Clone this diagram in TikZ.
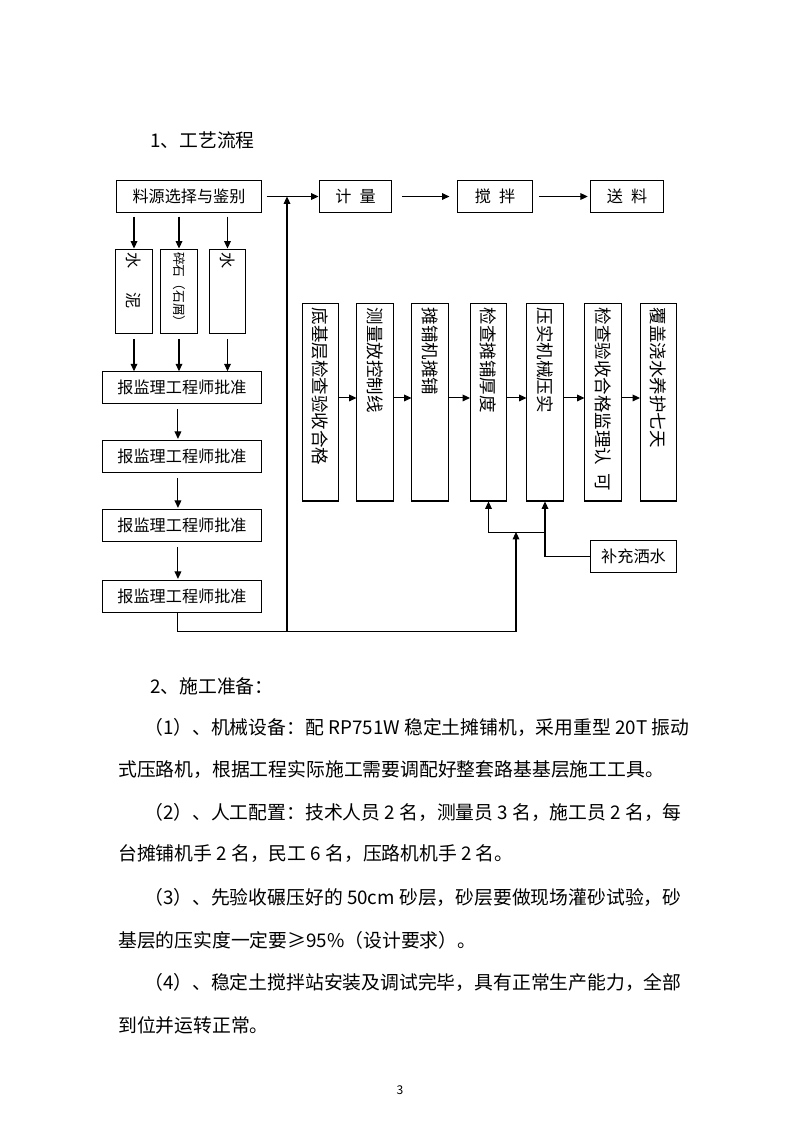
\documentclass[tikz,border=0pt]{standalone}
\usepackage{fontspec}
\usepackage{graphicx}
\setmainfont{Noto Sans CJK SC}
\usetikzlibrary{arrows.meta}

\newcommand{\vtext}[2][140pt]{\rotatebox{-90}{\makebox[#1][l]{#2}}}

\tikzset{
  box/.style={draw, line width=0.75pt, minimum height=23.1pt, inner sep=0pt, font=\fontsize{12}{14}\selectfont},
  vbox/.style={draw, line width=0.75pt, minimum width=26.8pt, minimum height=147.3pt, inner sep=0pt, font=\fontsize{13}{15}\selectfont},
  sbox/.style={draw, line width=0.75pt, minimum width=26.8pt, minimum height=62.5pt, inner sep=0pt, font=\fontsize{12}{14}\selectfont},
  arr/.style={line width=0.75pt, -{Triangle[length=5.5pt,width=5pt]}},
  para/.style={anchor=west, inner sep=0pt, font=\fontsize{14}{16}\selectfont}
}

\begin{document}
\begin{tikzpicture}[x=0.744pt, y=-0.744pt]
\path[use as bounding box] (0,0) rectangle (800,1132);

\node[para] (t1) at (150,140) {1、工艺流程};

% top row
\node[box, minimum width=108.6pt] (src) at (189,196.5) {料源选择与鉴别};
\node[box, minimum width=54.3pt] (jl) at (355.5,196.5) {计\enspace 量};
\node[box, minimum width=55.1pt] (jb) at (495,196.5) {搅\enspace 拌};
\node[box, minimum width=53.6pt] (sl) at (627,196.5) {送\enspace 料};

% materials
\node[sbox] (sn) at (134,291) {\vtext[58pt]{水\hspace{1.5em}泥}};
\node[sbox, font=\fontsize{9.5}{11}\selectfont] (sc) at (179,291) {\vtext[58pt]{碎石（石屑）}};
\node[sbox] (ws) at (227.5,291) {\vtext[58pt]{水}};

% approvals
\node[box, minimum width=117.6pt, minimum height=23.5pt] (bj1) at (182,387.5) {报监理工程师批准};
\node[box, minimum width=117.6pt, minimum height=23.5pt] (bj2) at (182,456.5) {报监理工程师批准};
\node[box, minimum width=117.6pt, minimum height=23.5pt] (bj3) at (182,525.5) {报监理工程师批准};
\node[box, minimum width=117.6pt, minimum height=23.5pt] (bj4) at (182,596.5) {报监理工程师批准};

% paving steps
\node[vbox] (b1) at (320.5,402) {\vtext{底基层检查验收合格}};
\node[vbox] (b2) at (375,402) {\vtext{测量放控制线}};
\node[vbox] (b3) at (430,402) {\vtext{摊铺机摊铺}};
\node[vbox] (b4) at (488.5,402) {\vtext{检查摊铺厚度}};
\node[vbox] (b5) at (545,402) {\vtext{压实机械压实}};
\node[vbox] (b6) at (603,402) {\vtext{检查验收合格监理认\enspace 可}};
\node[vbox] (b7) at (658.5,402) {\vtext{覆盖浇水养护七天}};
\node[box, minimum width=64.7pt] (bc) at (633.5,556.5) {补充洒水};

\coordinate (jn) at (516,532);
\coordinate (low) at (516,631);
\coordinate (up) at (287,631);

% connectors
\draw[arr, shorten <=3pt] (src) -- (jl);
\draw[arr, shorten <=7pt, shorten >=6pt] (jl) -- (jb);
\draw[arr, shorten <=5pt, shorten >=2pt] (jb) -- (sl);
\draw[arr] (up) -- (up |- src.east);

\draw[arr, shorten <=3pt] (src.south -| sn) -- (sn);
\draw[arr, shorten <=3pt] (src.south -| sc) -- (sc);
\draw[arr, shorten <=3pt] (src.south -| ws) -- (ws);
\draw[arr, shorten <=4pt] (sn) -- (sn |- bj1.north);
\draw[arr, shorten <=4pt] (sc) -- (sc |- bj1.north);
\draw[arr, shorten <=4pt] (ws) -- (ws |- bj1.north);

\draw[arr, shorten <=4pt, shorten >=1pt] ([xshift=-3pt]bj1.south) -- ([xshift=-3pt]bj2.north);
\draw[arr, shorten <=4pt, shorten >=1pt] ([xshift=-3pt]bj2.south) -- ([xshift=-3pt]bj3.north);
\draw[arr, shorten <=4pt, shorten >=1pt] ([xshift=-3pt]bj3.south) -- ([xshift=-3pt]bj4.north);
\draw[arr] ([xshift=-3pt]bj4.south) |- (low) -- (jn);

\draw[arr] ([yshift=3pt]b1.east) -- ([yshift=3pt]b2.west);
\draw[arr] ([yshift=3pt]b2.east) -- ([yshift=3pt]b3.west);
\draw[arr] ([yshift=3pt]b3.east) -- ([yshift=3pt]b4.west);
\draw[arr] ([yshift=3pt]b4.east) -- ([yshift=3pt]b5.west);
\draw[arr] ([yshift=3pt]b5.east) -- ([yshift=3pt]b6.west);
\draw[arr] ([yshift=3pt]b6.east) -- ([yshift=3pt]b7.west);

\draw[arr] (jn -| b5.south) -| (b4.south);
\draw[arr] (bc.west) -| (b5.south);

% text
\node[para] (t2) at (150,686) {2、施工准备：};
\node[para] (p1a) at (144,727) {（1）、机械设备：配 RP751W 稳定土摊铺机，采用重型 20T 振动};
\node[para] (p1b) at (118,770) {式压路机，根据工程实际施工需要调配好整套路基基层施工工具。};
\node[para] (p2a) at (144,812) {（2）、人工配置：技术人员 2 名，测量员 3 名，施工员 2 名，每};
\node[para] (p2b) at (118,854) {台摊铺机手 2 名，民工 6 名，压路机机手 2 名。};
\node[para] (p3a) at (144,897) {（3）、先验收碾压好的 50cm 砂层，砂层要做现场灌砂试验，砂};
\node[para] (p3b) at (118,940) {基层的压实度一定要≥95\%（设计要求）。};
\node[para] (p4a) at (144,982) {（4）、稳定土搅拌站安装及调试完毕，具有正常生产能力，全部};
\node[para] (p4b) at (118,1025) {到位并运转正常。};
\node[font=\fontsize{9}{11}\selectfont] (pg) at (400,1090) {3};
\end{tikzpicture}
\end{document}
